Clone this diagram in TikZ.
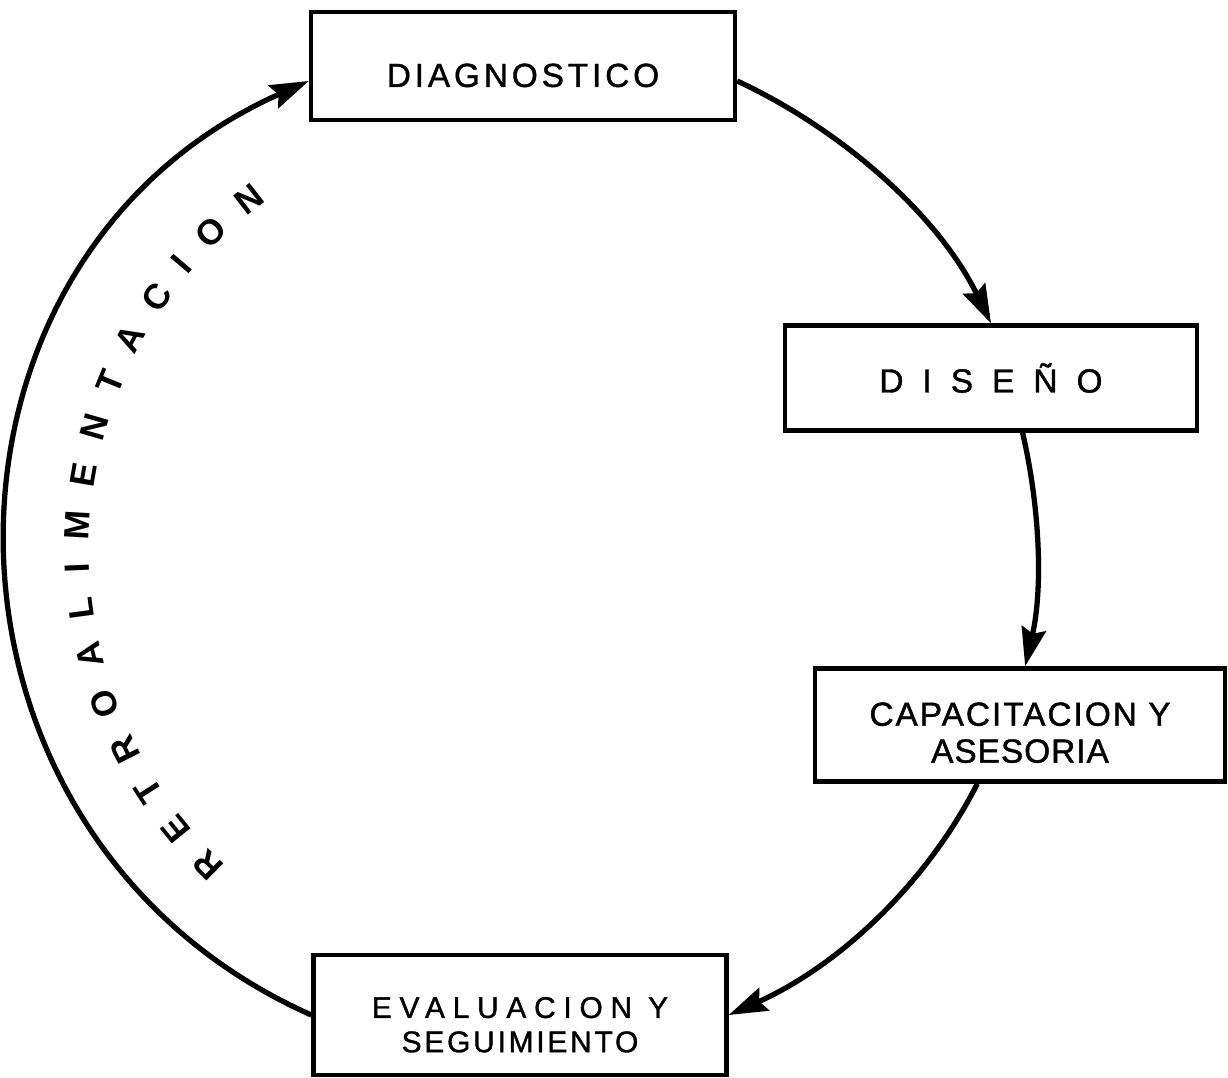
\documentclass[tikz,border=0pt]{standalone}
\usepackage{fontspec}
\setmainfont{Liberation Sans}
\usetikzlibrary{arrows.meta,decorations.text}

\newcommand{\spaced}[2]{{\addfontfeature{LetterSpace=#1}#2}}
\newcommand{\topstrut}[1]{\rule{0pt}{#1}}

\begin{document}
\begin{tikzpicture}[
    x=0.02cm, y=0.02cm,
    stage/.style={draw, line width=2.5pt, inner sep=0pt, align=center,
                  font=\fontsize{19}{21}\selectfont\addfontfeature{FakeBold=1.2}},
    arr/.style={-{Stealth[length=22pt, width=14pt, inset=3pt]}, line width=3pt}
  ]
    \useasboundingbox (0,0) rectangle (1228,-1078);
    \coordinate (ctr) at (520,-550);

    \node[stage, minimum width=8.48cm, minimum height=2.16cm] (diag)   at (523,-66)
        {\topstrut{24pt}\spaced{11.6}{DIAGNOSTICO}};
    \node[stage, minimum width=8.24cm, minimum height=2.1cm]  (diseno) at (991,-378)
        {\spaced{57}{DISEÑO}};
    \node[stage, minimum width=8.2cm,  minimum height=2.26cm] (capac)  at (1020,-725)
        {\topstrut{22pt}\spaced{6}{CAPACITACION Y}\\ \spaced{3}{ASESORIA}};
    \node[stage, minimum width=8.26cm, minimum height=2.4cm,
          font=\fontsize{17}{19.5}\selectfont\addfontfeature{FakeBold=1.2}] (evalua) at (520,-1015)
        {\topstrut{23pt}\spaced{26}{EVALUACION Y}\\ \spaced{9.4}{SEGUIMIENTO}};

    % cycle
    \draw[arr] (diag.356)   to[out=-25, in=116, looseness=0.86] (diseno.north);
    \draw[arr] (diseno.300) to[out=-77, in=77, looseness=0.86]  (capac.85);
    \draw[arr] (capac.234)  to[out=-117, in=24, looseness=0.88] (evalua.east);
    \draw[arr] (evalua.west) to[out=156, in=204, looseness=1.21] (diag.184);

    % feedback label
    \path[decorate, decoration={text along path, text align=fit to path,
          text format delimiters={|}{|},
          text={|\fontsize{20}{20}\bfseries\selectfont|RETROALIMENTACION}}]
      (ctr) ++(227:431) arc[start angle=227, end angle=126, radius=431];
  \end{tikzpicture}
\end{document}
